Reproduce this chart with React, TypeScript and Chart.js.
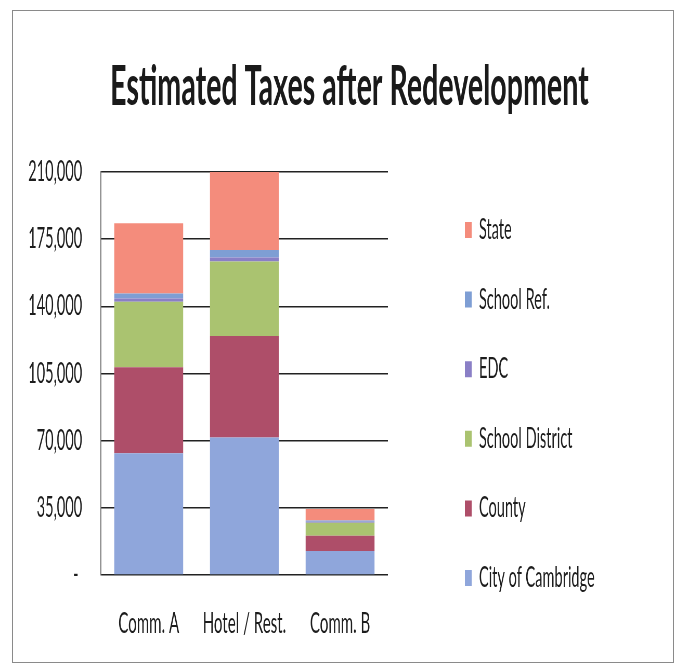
import { useEffect, useRef } from "react";
import { Chart, registerables } from "chart.js";

Chart.register(...registerables);

// Stacked tax estimates per redevelopment parcel
const categories = ["Comm. A", "Hotel / Rest.", "Comm. B"];
const cityOfCambridge = [63400, 71700, 12500];
const county = [44800, 52800, 8000];
const schoolDistrict = [34200, 38800, 6700];
const edc = [1700, 2200, 500];
const schoolRef = [2600, 3900, 700];
const state = [36600, 40600, 6000];
const yTicks = [0, 35000, 70000, 105000, 140000, 175000, 210000];

// The drawing surface is laid out wide and then compressed horizontally,
// which gives the tall, narrow lettering of the original slide.
const SQUEEZE = 0.52;
const W = 1269;
const H = 650;
const LEGEND_LEFT = 827.4;
const FONT = "Lato, 'Liberation Sans', sans-serif";
const TEXT = "#1d1d1d";

export default function App() {
  const canvasRef = useRef<HTMLCanvasElement | null>(null);

  useEffect(() => {
    const canvas = canvasRef.current;
    if (!canvas) return;

    const chart = new Chart(canvas, {
      type: "bar",
      data: {
        labels: categories,
        datasets: [
          { label: "City of Cambridge", data: cityOfCambridge, backgroundColor: "#8FA6DB" },
          { label: "County", data: county, backgroundColor: "#AE4E69" },
          { label: "School District", data: schoolDistrict, backgroundColor: "#AAC370" },
          { label: "EDC", data: edc, backgroundColor: "#8A7FC6" },
          { label: "School Ref.", data: schoolRef, backgroundColor: "#7E9ED4" },
          { label: "State", data: state, backgroundColor: "#F48C7C" },
        ],
      },
      options: {
        responsive: false,
        animation: false,
        devicePixelRatio: 1,
        layout: { padding: { left: 25, right: 0, top: 0, bottom: 19.6 } },
        plugins: {
          title: {
            display: true,
            text: "Estimated Taxes after Redevelopment",
            color: "#1a1a1a",
            font: { family: FONT, size: 55, weight: "bold" },
            padding: { top: 43.5, bottom: 51.5 },
          },
          legend: {
            position: "right",
            reverse: true,
            align: "start",
            maxWidth: 600,
            title: {
              display: true,
              text: " ",
              font: { size: 12 },
              padding: { top: 149, bottom: 0 },
            },
            labels: {
              boxWidth: 13,
              boxHeight: 16,
              padding: 41.6,
              color: TEXT,
              font: { family: FONT, size: 28 },
            },
          },
          tooltip: { enabled: false },
        },
        scales: {
          x: {
            stacked: true,
            afterFit: (scale: any) => {
              scale.height = 66.4;
            },
            grid: { display: false, drawTicks: false },
            border: { display: false },
            ticks: {
              padding: 31.6,
              maxRotation: 0,
              color: TEXT,
              font: { family: FONT, size: 29 },
            },
          },
          y: {
            stacked: true,
            min: 0,
            max: 210000,
            afterFit: (scale: any) => {
              scale.width = 144;
            },
            afterBuildTicks: (scale: any) => {
              scale.ticks = yTicks.map((value) => ({ value }));
            },
            grid: { color: "#222222", lineWidth: 1.6, drawTicks: false },
            border: { display: true, color: "#707070", width: 2 },
            ticks: {
              padding: 36,
              color: TEXT,
              font: { family: FONT, size: 28 },
              callback: (v: any) =>
                Number(v) === 0 ? "- " : Number(v).toLocaleString("en-US"),
            },
          },
          // blank space between plot and legend
          gap: {
            position: "right",
            display: true,
            grid: { display: false, drawTicks: false },
            border: { display: false },
            ticks: { display: false },
            afterFit: (scale: any) => {
              scale.width = 106.4;
            },
          },
          // blank margin to the right of the legend
          edge: {
            position: "right",
            weight: 5000,
            display: true,
            grid: { display: false, drawTicks: false },
            border: { display: false },
            ticks: { display: false },
            afterFit: (scale: any) => {
              const lw = scale.chart.legend ? scale.chart.legend.width : 0;
              scale.width = Math.max(0, W - LEGEND_LEFT - lw);
            },
          },
        },
      } as any,
    });

    return () => chart.destroy();
  }, []);

  return (
    <div
      style={{
        position: "absolute",
        left: 12,
        top: 10,
        width: 660,
        height: 651,
        border: "1px solid #8a8a8a",
        overflow: "hidden",
        background: "#fff",
      }}
    >
      <div
        style={{
          width: W,
          height: H,
          transform: `scaleX(${SQUEEZE})`,
          transformOrigin: "0 0",
        }}
      >
        <canvas
          ref={canvasRef}
          width={W}
          height={H}
          style={{ display: "block", width: W, height: H }}
        />
      </div>
    </div>
  );
}
